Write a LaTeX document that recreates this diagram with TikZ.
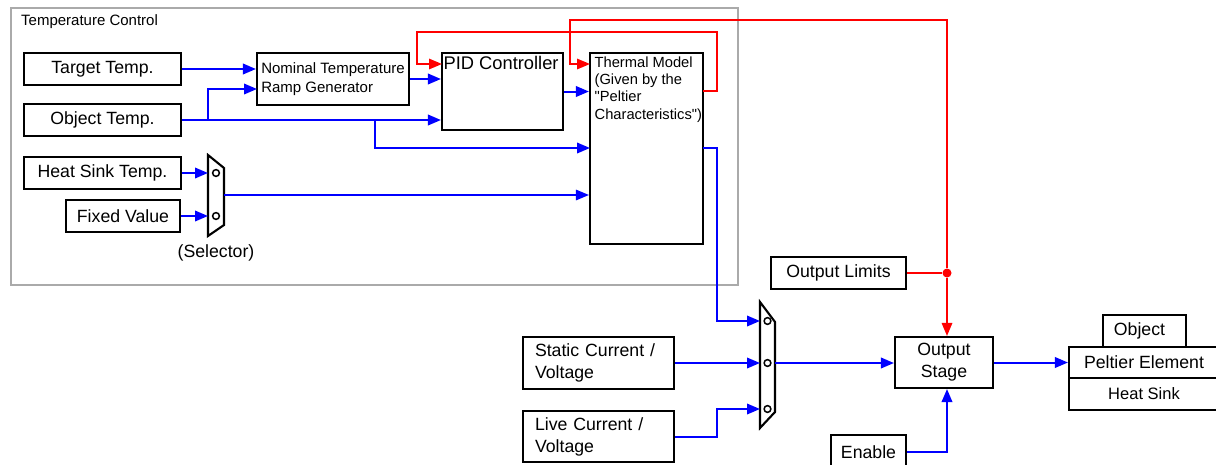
\documentclass[tikz,border=0pt]{standalone}
\usepackage{fontspec}
\setmainfont{Liberation Sans}[Ligatures=TeXOff]
\usetikzlibrary{arrows.meta}
\newcommand\myL{\fontsize{17.7}{22}\selectfont}
\newcommand\myP{\fontsize{18.3}{22}\selectfont}
\newcommand\myM{\fontsize{14.7}{17.3}\selectfont}
\newcommand\myT{\fontsize{15}{18}\selectfont}
\newcommand\myR{\fontsize{15}{19}\selectfont}
\newcommand\myH{\fontsize{16.5}{20}\selectfont}
\definecolor{frgray}{RGB}{170,170,170}
\begin{document}
\begin{tikzpicture}[x=1pt,y=-1pt]
\tikzset{
  box/.style={draw=black, line width=2.1pt, inner sep=0pt, font=\myL},
  bl/.style={draw=blue, line width=2pt, -{Triangle[length=13pt,width=10.5pt]}},
  rd/.style={draw=red, line width=1.6pt},
  rda/.style={rd, -{Triangle[length=13pt,width=10.5pt]}},
  mux/.style={draw=black, line width=2.1pt},
  pin/.style={draw=black, line width=1.5pt, fill=white}
}
\useasboundingbox (0,0) rectangle (1216,464);
% frame
\draw[frgray, line width=2pt] (11,8) rectangle (738,285);
\node[anchor=west, font=\myT, inner sep=0pt] (tclabel) at (21,22) {Temperature Control};

% left inputs
\node[box, minimum width=157pt, minimum height=32pt] (target) at (102.5,69) {Target Temp.};
\node[box, minimum width=157pt, minimum height=32pt] (object) at (102.5,120) {Object Temp.};
\node[box, minimum width=157pt, minimum height=32pt] (hst) at (102.5,173) {Heat Sink Temp.};
\node[box, minimum width=114pt, minimum height=32pt] (fixed) at (123,216) {Fixed Value};

% ramp, PID, thermal
\node[box, font=\myR, minimum width=152pt, minimum height=52pt, align=left] (ramp) at (333,79) {Nominal Temperature\\Ramp Generator};
\node[box, minimum width=121pt, minimum height=77pt,
  label={[font=\myP, anchor=north west, inner sep=0pt, xshift=2.5pt, yshift=-4pt]north west:PID Controller}] (pid) at (502.5,91.5) {};
\node[box, minimum width=113pt, minimum height=191pt,
  label={[font=\myM, align=left, anchor=north west, inner sep=0pt, xshift=5.5pt, yshift=-4.5pt]north west:{Thermal Model\\(Given by the\\"Peltier\\Characteristics")}}] (thermal) at (646.5,148.5) {};

% selector
\draw[mux] (208,155) -- (224,168) -- (224,225) -- (208,236) -- cycle;
\coordinate (selin1) at (208,173);
\coordinate (selin2) at (208,216);
\coordinate (selout) at (224,195);
\draw[pin] (216,173) circle (3.4pt);
\draw[pin] (216,216) circle (3.4pt);
\node[font=\myL, inner sep=0pt] (sellabel) at (216,253) {(Selector)};

% lower part
\node[box, minimum width=135pt, minimum height=32pt] (outlim) at (838.5,273) {Output Limits};
\node[box, text width=127pt, inner xsep=12pt, minimum height=52pt, align=left] (static) at (598.5,363) {Static Current /\\Voltage};
\node[box, text width=127pt, inner xsep=12pt, minimum height=51pt, align=left] (live) at (598.5,436.5) {Live Current /\\Voltage};

\draw[mux] (760,302) -- (775,322) -- (775,412) -- (760,428) -- cycle;
\coordinate (mux2in1) at (760,321);
\coordinate (mux2in2) at (760,363);
\coordinate (mux2in3) at (760,409);
\coordinate (mux2out) at (775,363);
\draw[pin] (767.5,321) circle (3.4pt);
\draw[pin] (767.5,363) circle (3.4pt);
\draw[pin] (767.5,409) circle (3.4pt);

\node[box, minimum width=98pt, minimum height=51pt, align=center] (outstage) at (944,362.5) {Output\\Stage};
\node[box, minimum width=75pt, minimum height=34pt] (enable) at (868.5,452) {Enable};
\node[box, minimum width=150pt, minimum height=31pt] (peltier) at (1144,362.5) {Peltier Element};
\node[box, font=\myH, minimum width=150pt, minimum height=32pt] (hsink) at (1144,394) {Heat Sink};
\node[box, minimum width=83pt, minimum height=32pt] (obj) at (1144.5,331) {\hspace*{-10pt}Object};

% helper coordinates
\coordinate (ob1) at (208,120);
\coordinate (rampin2) at (257,89);
\coordinate (ob2) at (375,120);
\coordinate (thin3) at (590,148);
\coordinate (thout) at (703,148);
\coordinate (thcorner) at (717,148);
\coordinate (livecorner) at (717,436.5);
\coordinate (throut) at (703,91);
\coordinate (rc1) at (717,32);
\coordinate (rc2) at (417,32);
\coordinate (pidin0) at (442,64);
\coordinate (rc3) at (947,20);
\coordinate (rc4) at (570,20);
\coordinate (thin0) at (590,64);

% blue connectors
\draw[bl] (target.east) -- (target.east -| ramp.west);
\draw[bl] (object.east) -- (ob1) |- (rampin2);
\draw[bl] (object.east) -- (object.east -| pid.west);
\draw[bl] (ob2) |- (thin3);
\draw[bl] (ramp.east) -- (ramp.east -| pid.west);
\draw[bl] (pid.east) -- (pid.east -| thermal.west);
\draw[bl] (hst.east) -- (selin1);
\draw[bl] (fixed.east) -- (selin2);
\draw[bl, line width=1.4pt] (selout) -- (selout -| thermal.west);
\draw[bl] (thout) -- (thcorner) |- (mux2in1);
\draw[bl] (static.east) -- (mux2in2);
\draw[bl] (live.east) -- (livecorner) |- (mux2in3);
\draw[bl] (mux2out) -- (mux2out -| outstage.west);
\draw[bl] (outstage.east) -- (outstage.east -| peltier.west);

% red connectors
\node[circle, fill=red, inner sep=0pt, minimum size=9pt] (jn) at (947,273) {};
\draw[bl] (enable.east) -| (outstage.south -| jn);
\draw[rda] (throut) -| (rc1) -- (rc2) |- (pidin0);
\draw[rd] (outlim.east) -- (jn);
\draw[rda] (jn) -- (jn |- outstage.north);
\draw[rda] (jn) -- (rc3) -- (rc4) |- (thin0);
\end{tikzpicture}
\end{document}
